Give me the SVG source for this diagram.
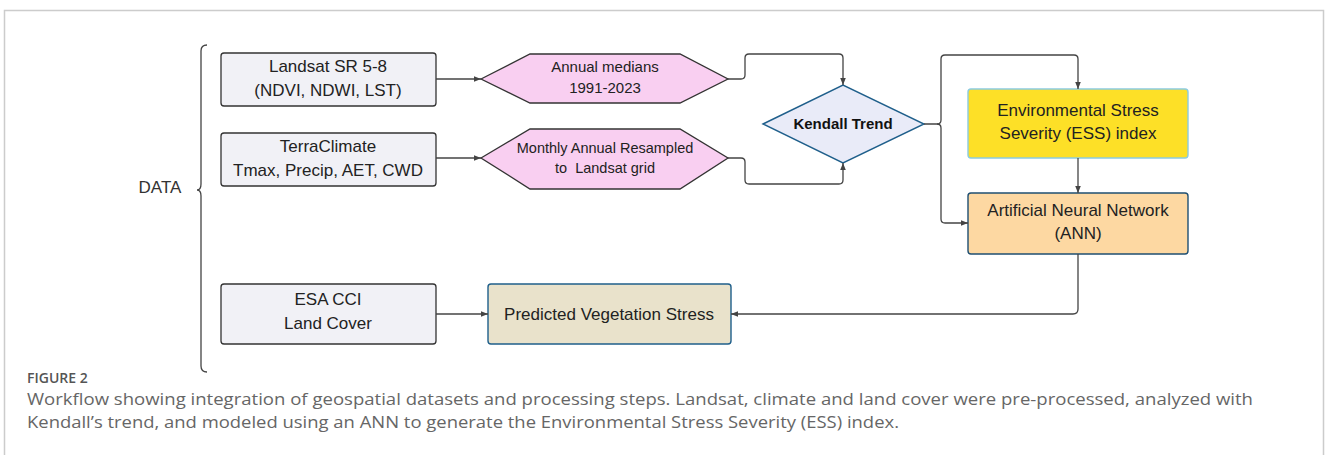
<svg xmlns="http://www.w3.org/2000/svg" width="1328" height="455" viewBox="0 0 1328 455">
<style>
.t{font-family:"Liberation Sans",Arial,sans-serif;font-size:17px;fill:#222;text-anchor:middle}
.b{font-weight:bold}
.src{fill:#f1f1f6;stroke:#333;stroke-width:1.3}
.hex{fill:#f9cff1;stroke:#333;stroke-width:1.3}
.c{fill:none;stroke:#444;stroke-width:1.3;stroke-linejoin:round}
.cap{font-family:"Open Sans",sans-serif;fill:#666}
</style>
<defs>
<marker id="ah" viewBox="0 0 10 10" refX="10" refY="5" markerWidth="7" markerHeight="7" orient="auto" markerUnits="userSpaceOnUse">
<path d="M0,1 L10,5 L0,9 z" fill="#444"/>
</marker>
</defs>
<rect width="1328" height="455" fill="#fff"/>
<path d="M4.5,455 V10.5 H1323.5 V455" fill="none" stroke="#ccc" stroke-width="1.5"/>

<g id="data-label">
<text class="t" x="160" y="193" style="fill:#333">DATA</text>
<path d="M207,45 Q201,45 201,51 V184 Q201,190 197,190 Q201,190 201,196 V366 Q201,372 207,372" fill="none" stroke="#444" stroke-width="1.3"/>
</g>

<g id="landsat">
<rect class="src" x="221" y="53" width="215" height="53" rx="3"/>
<text class="t" x="328" y="72">Landsat SR 5-8</text>
<text class="t" x="328" y="96">(NDVI, NDWI, LST)</text>
</g>
<g id="terraclimate">
<rect class="src" x="221" y="133" width="215" height="53" rx="3"/>
<text class="t" x="328" y="152">TerraClimate</text>
<text class="t" x="328" y="176">Tmax, Precip, AET, CWD</text>
</g>
<g id="esacci">
<rect class="src" x="221" y="284" width="215" height="60" rx="3"/>
<text class="t" x="328" y="305">ESA CCI</text>
<text class="t" x="328" y="329">Land Cover</text>
</g>

<g id="annual">
<polygon class="hex" points="481,79 530,54 680,54 728,79 680,103 530,103"/>
<text class="t" x="605" y="72" style="font-size:15px">Annual medians</text>
<text class="t" x="605" y="93" style="font-size:15px">1991-2023</text>
</g>
<g id="monthly">
<polygon class="hex" points="481,158 530,129 680,129 728,158 680,189 530,189"/>
<text class="t" x="605" y="153" style="font-size:14.5px">Monthly Annual Resampled</text>
<text class="t" x="605" y="173" style="font-size:14.5px">to&#160; Landsat grid</text>
</g>

<g id="kendall">
<polygon points="763,124 843,85 924,124 843,163" fill="#e9ebf8" stroke="#1f5f8b" stroke-width="1.4"/>
<text class="t b" x="843" y="129" style="font-size:15px;fill:#111">Kendall Trend</text>
</g>

<g id="ess">
<rect x="968" y="89" width="220" height="69" rx="3" fill="#fde027" stroke="#8ccbe0" stroke-width="1.4"/>
<text class="t" x="1078" y="116">Environmental Stress</text>
<text class="t" x="1078" y="139">Severity (ESS) index</text>
</g>
<g id="ann">
<rect x="968" y="193" width="220" height="61" rx="3" fill="#fdd8a2" stroke="#1f4f72" stroke-width="1.4"/>
<text class="t" x="1078" y="216">Artificial Neural Network</text>
<text class="t" x="1078" y="239">(ANN)</text>
</g>
<g id="predicted">
<rect x="488" y="284" width="243" height="60" rx="3" fill="#e9e2cb" stroke="#1f5f8b" stroke-width="1.4"/>
<text class="t" x="609" y="320">Predicted Vegetation Stress</text>
</g>

<g id="connectors">
<path class="c" d="M436,79 H481" marker-end="url(#ah)"/>
<path class="c" d="M436,158 H481" marker-end="url(#ah)"/>
<path class="c" d="M728,79 H741 Q745,79 745,75 V58 Q745,54 749,54 H839 Q843,54 843,58 V85" marker-end="url(#ah)"/>
<path class="c" d="M728,158 H741 Q745,158 745,162 V180 Q745,184 749,184 H839 Q843,184 843,180 V163" marker-end="url(#ah)"/>
<path class="c" d="M924,124 H937 Q941,124 941,120 V59 Q941,55 945,55 H1074 Q1078,55 1078,59 V89" marker-end="url(#ah)"/>
<path class="c" d="M937,124 Q941,124 941,128 V219 Q941,223 945,223 H968" marker-end="url(#ah)"/>
<path class="c" d="M1078,158 V193" marker-end="url(#ah)"/>
<path class="c" d="M1078,254 V309 Q1078,314 1073,314 H731" marker-end="url(#ah)"/>
<path class="c" d="M436,314 H488" marker-end="url(#ah)"/>
</g>

<g id="caption">
<text class="cap" x="27" y="383" style="font-size:14px;font-weight:600;fill:#555">FIGURE 2</text>
<text class="cap" x="27" y="405" style="font-size:17px" textLength="1226" lengthAdjust="spacingAndGlyphs">Workflow showing integration of geospatial datasets and processing steps. Landsat, climate and land cover were pre-processed, analyzed with</text>
<text class="cap" x="27" y="428" style="font-size:17px" textLength="872" lengthAdjust="spacingAndGlyphs">Kendall’s trend, and modeled using an ANN to generate the Environmental Stress Severity (ESS) index.</text>
</g>
</svg>
